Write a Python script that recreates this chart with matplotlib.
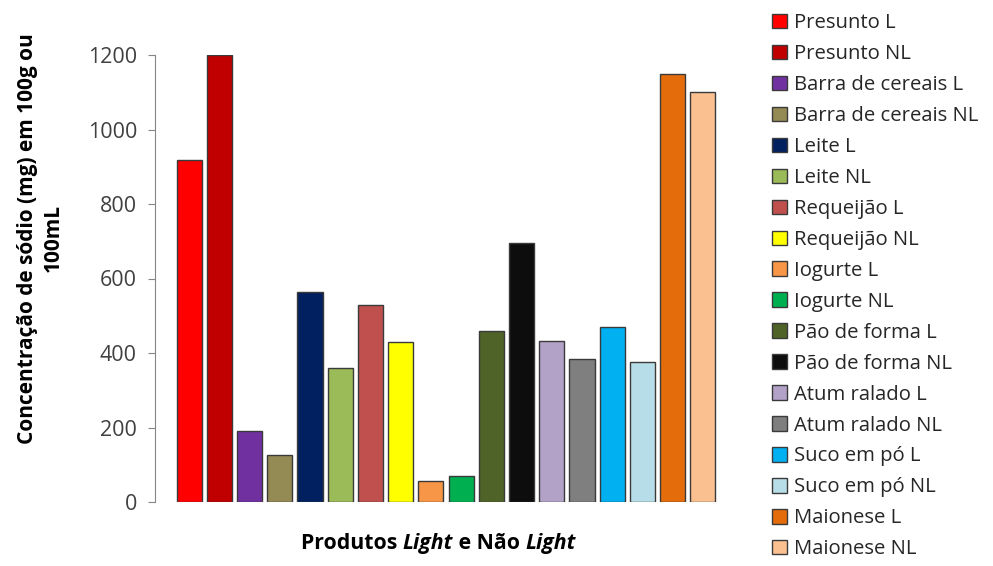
import matplotlib
matplotlib.use("Agg")
import matplotlib.pyplot as plt

categories = ["Presunto L", "Presunto NL", "Barra de cereais L", "Barra de cereais NL",
              "Leite L", "Leite NL", "Requeijão L", "Requeijão NL", "Iogurte L", "Iogurte NL",
              "Pão de forma L", "Pão de forma NL", "Atum ralado L", "Atum ralado NL",
              "Suco em pó L", "Suco em pó NL", "Maionese L", "Maionese NL"]
values = [918, 1200, 190, 126, 565, 359, 529, 429, 57, 71,
          460, 694, 432, 383, 469, 377, 1149, 1100]
colors = ["#FF0000", "#C00000", "#7030A0", "#948A54", "#002060", "#9BBB59",
          "#C0504D", "#FFFF00", "#F79646", "#00B050", "#4F6228", "#0D0D0D",
          "#B3A2C7", "#7F7F7F", "#00B0F0", "#B7DEE8", "#E46C0A", "#FAC090"]
yticks = [0, 200, 400, 600, 800, 1000, 1200]

plt.rcParams['font.family'] = ['Open Sans', 'DejaVu Sans']

fig = plt.figure(figsize=(9.93, 5.66), dpi=100)
ax = fig.add_axes([155/993, 1 - 502/566, (737 - 155)/993, (502 - 55)/566])

handles = []
for i, (c, v, col) in enumerate(zip(categories, values, colors)):
    b = ax.bar(i, v, width=0.83, color=col, edgecolor="#3a3a3a", linewidth=1.0, label=c)
    handles.append(b)

ax.set_ylim(0, 1200)
ax.set_xlim(-1.13, 17 + 1.13)
ax.set_yticks(yticks)
ax.set_yticklabels([str(t) for t in yticks], fontsize=15.5, color="#404040")
ax.set_xticks([])
for s in ["top", "right", "bottom"]:
    ax.spines[s].set_visible(False)
ax.spines["left"].set_color("#868686")
ax.tick_params(axis="y", direction="out", length=5, color="#868686", pad=8)

fig.text(40.5/993, 1 - 238.5/566, "Concentração de sódio (mg) em 100g ou\n100mL",
         rotation=90, ha="center", va="center", fontsize=15, fontweight="bold",
         multialignment="center", linespacing=1.25)

# x label with italic parts
fs = 15.3
t1 = fig.text(301/993, 1 - 549/566, "Produtos ", fontsize=fs, fontweight="bold", va="baseline")
a1 = ax.annotate("Light", xy=(1, 0), xycoords=t1, fontstyle="italic", ha="left",
                 fontsize=fs, fontweight="bold", va="bottom")
a2 = ax.annotate(" e Não ", xy=(1, 0), xycoords=a1, ha="left",
                 fontsize=fs, fontweight="bold", va="bottom")
a3 = ax.annotate("Light", xy=(1, 0), xycoords=a2, fontstyle="italic", ha="left",
                 fontsize=fs, fontweight="bold", va="bottom")

fig.legend(handles=handles, labels=categories, loc="upper left",
           bbox_to_anchor=(758/993, 1 + 1/566), frameon=False, fontsize=14.6,
           handlelength=0.72, handleheight=0.72, handletextpad=0.37,
           labelspacing=0.54, borderpad=0.2, labelcolor="#262626")

fig.savefig("out.png", dpi=100)
